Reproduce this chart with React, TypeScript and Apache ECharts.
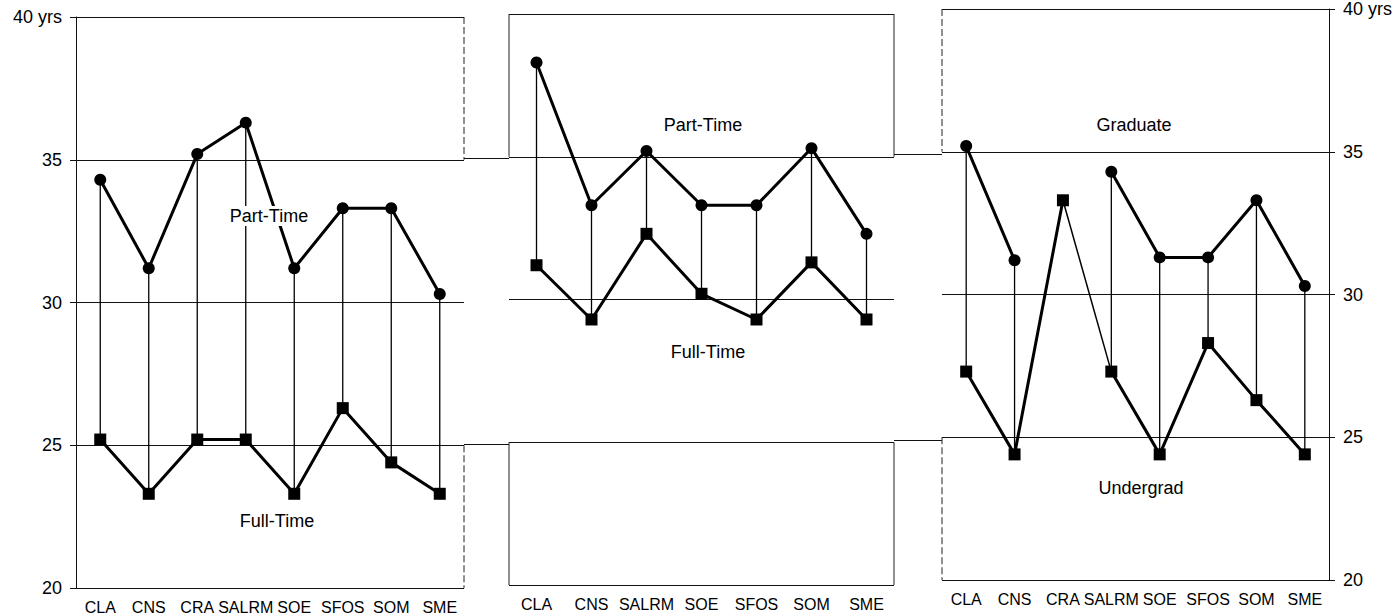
import React, { useEffect, useRef } from "react";
import * as echarts from "echarts";

// ---- data ----
const schools8 = ["CLA", "CNS", "CRA", "SALRM", "SOE", "SFOS", "SOM", "SME"];
const schools7 = ["CLA", "CNS", "SALRM", "SOE", "SFOS", "SOM", "SME"];
const partTimeA = [34.3, 31.2, 35.2, 36.3, 31.2, 33.3, 33.3, 30.3];
const fullTimeA = [25.2, 23.3, 25.2, 25.2, 23.3, 26.3, 24.4, 23.3];
const partTimeB = [38.3, 33.3, 35.2, 33.3, 33.3, 35.3, 32.3];
const fullTimeB = [31.2, 29.3, 32.3, 30.2, 29.3, 31.3, 29.3];
const graduate: (number | null)[] = [35.2, 31.2, null, 34.3, 31.3, 31.3, 33.3, 30.3];
const undergrad = [27.3, 24.4, 33.3, 27.3, 24.4, 28.3, 26.3, 24.4];
const yTicks = [20, 25, 30, 35, 40];
const panelLabels = [
  ["Part-Time", "Full-Time"],
  ["Part-Time", "Full-Time"],
  ["Graduate", "Undergrad"],
];

// ---- layout ----
const FONT = "'Liberation Sans', Arial, Helvetica, sans-serif";
const INK = "#111";
const PANEL_H = 571;
const panels = [
  { left: 76, width: 388, top: 17 },
  { left: 509, width: 385, top: 14 },
  { left: 942, width: 387, top: 9 },
];
const gaps = [
  { left: 464, width: 45, top: 15.5 },
  { left: 894, width: 48, top: 11.5 },
];
const labelPos = [
  [
    [269, 216],
    [277, 521],
  ],
  [
    [703, 125],
    [708, 352],
  ],
  [
    [1134, 125],
    [1141, 488],
  ],
];

const yMin = yTicks[0];
const yMax = yTicks[yTicks.length - 1];
const yStep = yTicks[1] - yTicks[0];

function lineSeries(idx: number, data: (number | null)[], symbol: string, width = 3, showSymbol = true) {
  return {
    type: "line",
    xAxisIndex: idx,
    yAxisIndex: idx,
    data,
    symbol: showSymbol ? symbol : "none",
    symbolSize: 12,
    connectNulls: false,
    lineStyle: { color: "#000", width },
    itemStyle: { color: "#000" },
    z: showSymbol ? 4 : 3,
    silent: true,
  };
}

function dropSeries(idx: number, a: (number | null)[], b: (number | null)[]) {
  const data: number[][] = [];
  a.forEach((v, i) => {
    const w = b[i];
    if (v != null && w != null) data.push([i, v, w]);
  });
  return {
    type: "custom",
    xAxisIndex: idx,
    yAxisIndex: idx,
    data,
    encode: { x: 0, y: [1, 2] },
    silent: true,
    z: 2,
    renderItem: (params: any, api: any) => {
      const p1 = api.coord([api.value(0), api.value(1)]);
      const p2 = api.coord([api.value(0), api.value(2)]);
      return {
        type: "line",
        shape: { x1: p1[0], y1: p1[1], x2: p2[0], y2: p2[1] },
        style: { stroke: "#000", lineWidth: 1.3 },
      };
    },
  };
}

function frameSeries(idx: number, leftEdge: boolean, rightEdge: boolean, dash: number[] | null) {
  return {
    type: "custom",
    xAxisIndex: idx,
    yAxisIndex: idx,
    data: [[0, yMax]],
    silent: true,
    clip: false,
    z: 1,
    renderItem: (params: any, api: any) => {
      const cs = params.coordSys;
      const y40 = api.coord([0, yTicks[4]])[1];
      const y35 = api.coord([0, yTicks[3]])[1];
      const y25 = api.coord([0, yTicks[1]])[1];
      const y20 = api.coord([0, yTicks[0]])[1];
      const xs: number[] = [];
      if (leftEdge) xs.push(cs.x);
      if (rightEdge) xs.push(cs.x + cs.width);
      const children: any[] = [];
      const st = { stroke: "#222", lineWidth: 1, lineDash: dash || undefined };
      xs.forEach((x) => {
        children.push({ type: "line", shape: { x1: x, y1: y40, x2: x, y2: y35 }, style: st });
        children.push({ type: "line", shape: { x1: x, y1: y25, x2: x, y2: y20 }, style: st });
      });
      return { type: "group", children };
    },
  };
}

function buildOption() {
  const grid: any[] = panels.map((p) => ({ left: p.left, width: p.width, top: p.top, height: PANEL_H, show: false }));
  gaps.forEach((g) =>
    grid.push({ left: g.left, width: g.width, top: g.top + PANEL_H / 4, height: PANEL_H / 2, show: false })
  );

  const cats = [schools8, schools7, schools8];
  const xAxis: any[] = cats.map((c, i) => ({
    type: "category",
    gridIndex: i,
    data: c,
    boundaryGap: true,
    axisLine: { show: false },
    axisTick: { show: false },
    splitLine: { show: false },
    axisLabel: { interval: 0, color: "#000", fontSize: 16, fontFamily: FONT, margin: 11 },
  }));
  gaps.forEach((_, k) =>
    xAxis.push({ type: "value", gridIndex: 3 + k, min: 0, max: 1, show: false })
  );

  const split = { show: true, lineStyle: { color: INK, width: 1 } };
  const labelFmt = (v: number) => (v === yMax ? `${v} yrs` : `${v}`);
  const yLabel = { color: "#000", fontSize: 18, fontFamily: FONT, margin: 14, formatter: labelFmt };
  const yAxis: any[] = [
    {
      type: "value",
      gridIndex: 0,
      min: yMin,
      max: yMax,
      interval: yStep,
      position: "left",
      axisLine: { show: true, lineStyle: { color: INK, width: 1 } },
      axisTick: { show: true, length: 6, lineStyle: { color: INK } },
      axisLabel: yLabel,
      splitLine: split,
    },
    {
      type: "value",
      gridIndex: 1,
      min: yMin,
      max: yMax,
      interval: yStep,
      axisLine: { show: false },
      axisTick: { show: false },
      axisLabel: { show: false },
      splitLine: split,
    },
    {
      type: "value",
      gridIndex: 2,
      min: yMin,
      max: yMax,
      interval: yStep,
      position: "right",
      axisLine: { show: true, lineStyle: { color: INK, width: 1 } },
      axisTick: { show: true, length: 6, lineStyle: { color: INK } },
      axisLabel: yLabel,
      splitLine: split,
    },
  ];
  gaps.forEach((_, k) =>
    yAxis.push({
      type: "value",
      gridIndex: 3 + k,
      min: yTicks[1],
      max: yTicks[3],
      interval: yTicks[3] - yTicks[1],
      axisLine: { show: false },
      axisTick: { show: false },
      axisLabel: { show: false },
      splitLine: split,
    })
  );

  const ugThickA = undergrad.map((v, i) => (i <= 2 ? v : null));
  const ugThickB = undergrad.map((v, i) => (i >= 3 ? v : null));
  const ugThin = undergrad.map((v, i) => (i === 2 || i === 3 ? v : null));

  const series: any[] = [
    frameSeries(0, false, true, [7, 3]),
    frameSeries(1, true, true, null),
    frameSeries(2, true, false, [7, 3]),
    dropSeries(0, partTimeA, fullTimeA),
    dropSeries(1, partTimeB, fullTimeB),
    dropSeries(2, graduate, undergrad),
    lineSeries(0, partTimeA, "circle"),
    lineSeries(0, fullTimeA, "rect"),
    lineSeries(1, partTimeB, "circle"),
    lineSeries(1, fullTimeB, "rect"),
    lineSeries(2, graduate, "circle"),
    lineSeries(2, ugThickA, "rect"),
    lineSeries(2, ugThickB, "rect"),
    lineSeries(2, ugThin, "rect", 1.5, false),
  ];

  const graphic: any[] = [];
  panelLabels.forEach((pair, i) =>
    pair.forEach((t, j) => {
      const [x, y] = labelPos[i][j];
      graphic.push({
        type: "text",
        x,
        y,
        z: 100,
        silent: true,
        style: {
          text: t,
          align: "center",
          verticalAlign: "middle",
          fontSize: 18,
          fontFamily: FONT,
          fill: "#000",
          backgroundColor: "#fff",
          padding: [1, 2],
        },
      });
    })
  );

  return {
    animation: false,
    backgroundColor: "#fff",
    grid,
    xAxis,
    yAxis,
    series,
    graphic,
  };
}

export default function App() {
  const ref = useRef<HTMLDivElement | null>(null);
  useEffect(() => {
    if (!ref.current) return;
    const chart = echarts.init(ref.current, undefined, { renderer: "svg" });
    chart.setOption(buildOption() as any);
    return () => chart.dispose();
  }, []);
  return (
    <div
      ref={ref}
      style={{ position: "fixed", left: 0, top: 0, width: 1399, height: 615, background: "#fff" }}
    />
  );
}
